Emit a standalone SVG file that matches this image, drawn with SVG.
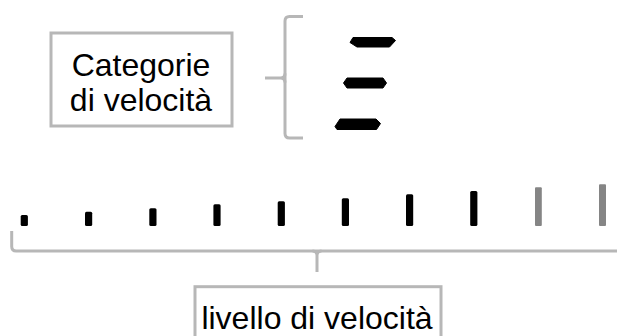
<svg xmlns="http://www.w3.org/2000/svg" width="617" height="336" viewBox="0 0 617 336">
<style>
.frame{fill:#fff;stroke:#b7b7b7;stroke-width:3}
.brace{fill:none;stroke:#b7b7b7;stroke-width:3;stroke-linecap:butt}
.lbl{font-family:"Liberation Sans",Arial,sans-serif;font-size:32px;fill:#000;text-anchor:middle}
.dash{fill:#000;stroke:#000;stroke-width:1;stroke-linejoin:round}
.bar{fill:#000}
.bar.light{fill:#858585}
</style>
<rect width="617" height="336" fill="#fff"/>
<g id="categorie">
<rect class="frame" x="51" y="33" width="181" height="93"/>
<text class="lbl" x="141" y="76">Categorie</text>
<text class="lbl" x="141" y="111">di velocità</text>
</g>
<g id="dashes">
<polygon class="dash" points="353,37.5 392,37.5 395.5,40.5 389.5,47 357,47 350,42.5"/>
<polygon class="dash" points="347,78 383,78 386.5,83 383,88 347,88 343.5,83"/>
<polygon class="dash" points="340,119 376,119 380.5,123.5 376.5,129.5 337,129.5 335,126.5"/>
</g>
<g id="bars">
<rect class="bar" x="20.7" y="215" width="7.2" height="11" rx="1.5"/>
<rect class="bar" x="85" y="211.7" width="7.2" height="14.3" rx="1.5"/>
<rect class="bar" x="149.3" y="208.3" width="7.2" height="17.7" rx="1.5"/>
<rect class="bar" x="213.4" y="204.3" width="7.2" height="21.7" rx="1.5"/>
<rect class="bar" x="277.7" y="201.3" width="7.2" height="24.7" rx="1.5"/>
<rect class="bar" x="341.8" y="198.3" width="7.2" height="27.7" rx="1.5"/>
<rect class="bar" x="406" y="194.3" width="7.2" height="31.7" rx="1.5"/>
<rect class="bar" x="470.2" y="191" width="7.2" height="35" rx="1.5"/>
<rect class="bar light" x="535" y="187.3" width="6.8" height="38.7" rx="1"/>
<rect class="bar light" x="599" y="184.3" width="7" height="41.7" rx="1"/>
</g>
<g id="connectors">
<path class="brace" d="M303,16.5 H289.5 Q285,16.5 285,21 V133.5 Q285,138 289.5,138 H303"/>
<path class="brace" d="M265,78 H280.5 Q285,78 285,73.5 M280.5,78 Q285,78 285,82.5"/>
<path class="brace" d="M11.7,231 V246.5 Q11.7,251 16.2,251 H617"/>
<path class="brace" d="M317,272 V255.5 Q317,251 312.5,251 M317,255.5 Q317,251 321.5,251"/>
</g>
<g id="livello">
<rect class="frame" x="195" y="286.7" width="246" height="60"/>
<text class="lbl" x="317" y="329">livello di velocità</text>
</g>
</svg>
